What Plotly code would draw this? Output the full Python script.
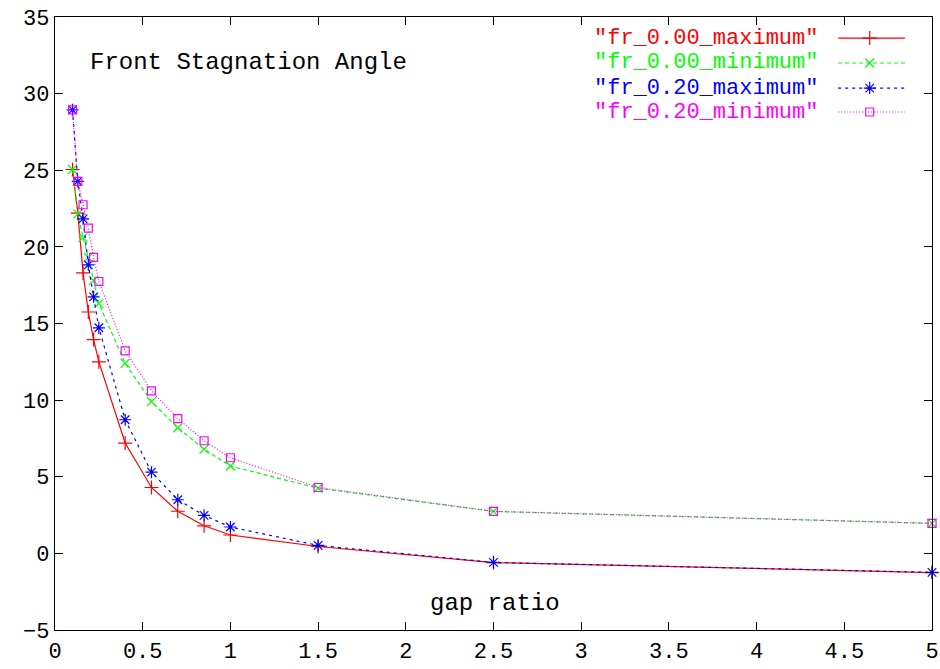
import plotly.graph_objects as go

gap_ratio = [0.1, 0.13, 0.16, 0.19, 0.22, 0.25, 0.4, 0.55, 0.7, 0.85, 1.0, 1.5, 2.5, 5.0]
fr000_max = [25.05, 22.2, 18.3, 15.75, 13.95, 12.5, 7.2, 4.3, 2.75, 1.8, 1.2, 0.45, -0.6, -1.25]
fr000_min = [25.05, 22.15, 20.6, 19.3, 17.8, 16.3, 12.4, 9.9, 8.2, 6.8, 5.7, 4.25, 2.74, 1.96]
fr020_max = [28.94, 24.27, 21.83, 18.83, 16.74, 14.72, 8.72, 5.3, 3.5, 2.48, 1.72, 0.52, -0.59, -1.24]
fr020_min = [28.94, 24.27, 22.75, 21.22, 19.31, 17.74, 13.22, 10.61, 8.79, 7.35, 6.24, 4.3, 2.74, 1.96]

series_names = ['"fr_0.00_maximum"', '"fr_0.00_minimum"', '"fr_0.20_maximum"', '"fr_0.20_minimum"']
series_values = [fr000_max, fr000_min, fr020_max, fr020_min]
colors = ["#ff0000", "#00ff00", "#0000ff", "#ff00ff"]
dashes = ["solid", "4px,3px", "3px,4px", "1px,2px"]
symbols = ["cross-thin-open", "x-thin-open", "asterisk-open", "square-open"]
msizes = [10, 9, 10, 8]

x_ticks = [0, 0.5, 1, 1.5, 2, 2.5, 3, 3.5, 4, 4.5, 5]
x_labels = ["0", "0.5", "1", "1.5", "2", "2.5", "3", "3.5", "4", "4.5", "5"]
y_ticks = [-5, 0, 5, 10, 15, 20, 25, 30, 35]

FONT = "Liberation Mono"

fig = go.Figure()
for name, vals, c, d, s, ms in zip(series_names, series_values, colors, dashes, symbols, msizes):
    fig.add_trace(go.Scatter(
        x=gap_ratio, y=vals, mode="lines+markers", name=name,
        line=dict(color=c, width=1.2, dash=d),
        marker=dict(symbol=s, size=ms, color=c, line=dict(color=c, width=1.2)),
        cliponaxis=False, showlegend=False))

# manual legend (text left of sample, gnuplot style)
leg_y = [0.9657, 0.925, 0.884, 0.845]
for name, c, d, s, ms, yy in zip(series_names, colors, dashes, symbols, msizes, leg_y):
    fig.add_trace(go.Scatter(
        x=[0.893, 0.929, 0.969], y=[yy, yy, yy], xaxis="x2", yaxis="y2",
        mode="lines", line=dict(color=c, width=1.2, dash=d),
        showlegend=False, hoverinfo="skip", cliponaxis=False))
    fig.add_trace(go.Scatter(
        x=[0.929], y=[yy], xaxis="x2", yaxis="y2", mode="markers",
        marker=dict(symbol=s, size=ms, color=c, line=dict(color=c, width=1.2)),
        showlegend=False, hoverinfo="skip", cliponaxis=False))
    fig.add_annotation(x=0.872, y=yy, xref="paper", yref="paper", text=name,
                       showarrow=False, xanchor="right", yanchor="middle",
                       font=dict(family=FONT, size=22, color=c))

fig.add_annotation(x=0.038, y=0.925, xref="paper", yref="paper",
                   text="Front Stagnation Angle", showarrow=False,
                   xanchor="left", yanchor="middle",
                   font=dict(family=FONT, size=24, color="#000000"))
fig.add_annotation(x=0.5017, y=0.044, xref="paper", yref="paper",
                   text="gap ratio", showarrow=False,
                   xanchor="center", yanchor="middle",
                   font=dict(family=FONT, size=24, color="#000000"))

axis_common = dict(showgrid=False, zeroline=False, showline=True, linecolor="#000000",
                   linewidth=1.2, mirror="ticks", ticks="inside", ticklen=8,
                   tickcolor="#000000", tickwidth=1, automargin=False,
                   tickfont=dict(family=FONT, size=22, color="#000000"))

fig.update_layout(
    width=940, height=669,
    margin=dict(l=55, r=8, t=17, b=39),
    paper_bgcolor="#ffffff", plot_bgcolor="#ffffff",
    xaxis=dict(range=[0, 5], tickvals=x_ticks, ticktext=x_labels, **axis_common),
    yaxis=dict(range=[-5, 35], tickvals=y_ticks, **axis_common),
    xaxis2=dict(range=[0, 1], overlaying="x", visible=False),
    yaxis2=dict(range=[0, 1], overlaying="y", visible=False),
    showlegend=False,
)

fig.write_html("out.html")
